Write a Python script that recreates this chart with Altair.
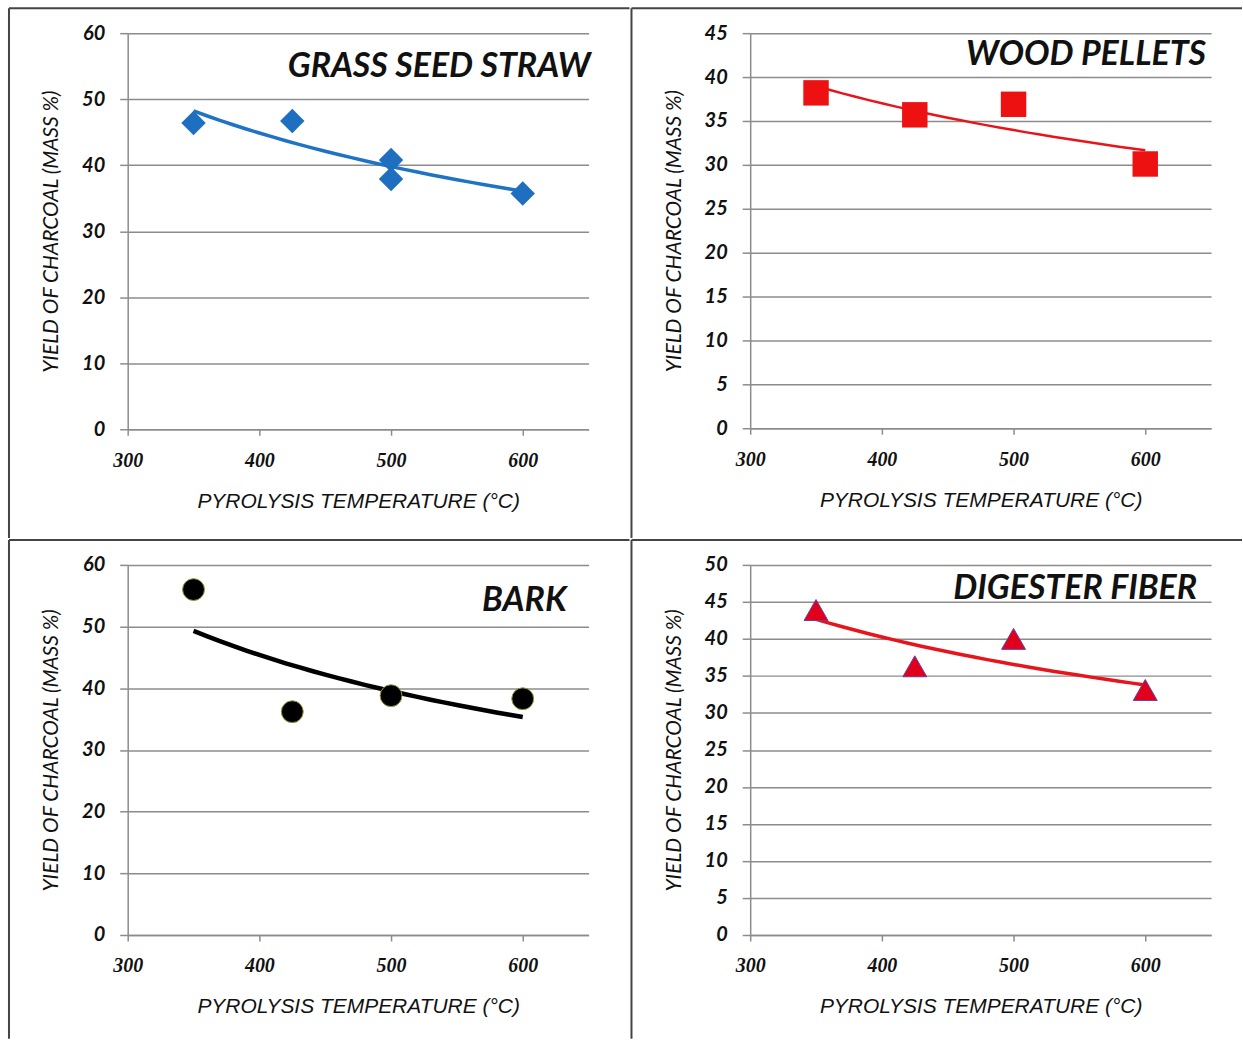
import altair as alt
import pandas as pd

# ---- data ----
x_ticks = [300, 400, 500, 600]

temps_grass = [350, 425, 500, 500, 600]
yield_grass = [46.4, 46.7, 40.8, 37.9, 35.7]

temps_wood = [350, 425, 500, 600]
yield_wood = [38.2, 35.7, 36.9, 30.1]

temps_bark = [350, 425, 500, 600]
yield_bark = [56.0, 36.2, 38.8, 38.3]

temps_fiber = [350, 425, 500, 600]
yield_fiber = [43.7, 36.1, 39.8, 32.9]

titles = ["GRASS SEED STRAW", "WOOD PELLETS", "BARK", "DIGESTER FIBER"]
y_max = [60, 45, 60, 50]
y_step = [10, 5, 10, 5]

X_TITLE = "PYROLYSIS TEMPERATURE (°C)"
Y_TITLE = "YIELD OF CHARCOAL (MASS %)"

GRID = "#8c8c8c"
BORDER = "#444444"


def panel(i, temps, ys, w, h, point_style, line_color, line_w, title_dx, title_y, box):
    df = pd.DataFrame({"T": temps, "Y": ys})
    yvals = list(range(0, y_max[i] + 1, y_step[i]))
    xenc = alt.X(
        "T:Q",
        scale=alt.Scale(domain=[300, 650], nice=False, zero=False),
        axis=alt.Axis(
            values=x_ticks, tickCount=len(x_ticks), grid=False, title=X_TITLE,
            titleFont="Liberation Sans", titleFontStyle="italic", titleFontWeight="normal",
            titleFontSize=21, titleColor="#111", titlePadding=21,
            labelFont="Liberation Serif", labelFontStyle="italic", labelFontWeight="bold",
            labelFontSize=20, labelColor="#111", labelPadding=15,
            labelFlush=False, labelOverlap=False,
            tickSize=6, tickColor=GRID, tickWidth=1.5,
            domainColor=GRID, domainWidth=1.5,
            minExtent=40, maxExtent=40,
        ),
    )
    yenc = alt.Y(
        "Y:Q",
        scale=alt.Scale(domain=[0, y_max[i]], nice=False),
        axis=alt.Axis(
            values=yvals, tickCount=len(yvals), title=Y_TITLE,
            titleFont="Lato", titleFontStyle="italic", titleFontWeight="normal",
            titleFontSize=21, titleColor="#111", titlePadding=20,
            labelFont="Lato", labelFontStyle="italic", labelFontWeight="bold",
            labelFontSize=20, labelColor="#111", labelPadding=15,
            labelOverlap=False, labelFlush=False,
            tickSize=8, tickColor=GRID, tickWidth=1.5,
            domainColor=GRID, domainWidth=1.5,
            gridColor=GRID, gridWidth=1.5,
            minExtent=46, maxExtent=46,
        ),
    )
    base = alt.Chart(df)
    trend = base.transform_regression("T", "Y", method="pow").mark_line(
        color=line_color, strokeWidth=line_w
    ).encode(x=xenc, y=yenc)
    pts = base.mark_point(filled=True, opacity=1, **point_style).encode(x="T:Q", y="Y:Q")
    ttl = alt.Chart(pd.DataFrame({"t": [titles[i]]})).mark_text(
        align="right", baseline="alphabetic", font="Lato", fontStyle="italic",
        fontWeight="bold", fontSize=34, color="#111"
    ).encode(x=alt.value(w + title_dx), y=alt.value(title_y), text="t:N")
    L, R, T, B = box
    one = pd.DataFrame({"a": [0]})
    top_rule = alt.Chart(one).mark_rule(color=BORDER, strokeWidth=2).encode(
        x=alt.value(L), x2=alt.value(R), y=alt.value(T)
    )
    left_rule = alt.Chart(one).mark_rule(color=BORDER, strokeWidth=2).encode(
        x=alt.value(L), y=alt.value(T), y2=alt.value(B)
    )
    return alt.layer(trend, pts, ttl, top_rule, left_rule).properties(width=w, height=h)


p1 = panel(0, temps_grass, yield_grass, 462, 397,
           dict(shape="diamond", size=600, fill="#1f6fc1", color="#1f6fc1", strokeWidth=0),
           "#1f73c4", 3.5, 2, 44, (-119, 503, -25, 506))
p2 = panel(1, temps_wood, yield_wood, 462, 396,
           dict(shape="square", size=650, fill="#ee1111", color="#ee1111", strokeWidth=0),
           "#e8141b", 2.5, -5, 32, (-119, 493, -25, 506))
p3 = panel(2, temps_bark, yield_bark, 462, 371,
           dict(shape="circle", size=480, fill="#000000", color="#000000",
                stroke="#9b9b3a", strokeWidth=1),
           "#000000", 4.5, -22, 46, (-119, 503, -25, 475))
p4 = panel(3, temps_fiber, yield_fiber, 462, 371,
           dict(shape="M0,-1L1,0.75L-1,0.75Z", size=576, fill="#e0001b", color="#e0001b",
                stroke="#6b3fa0", strokeWidth=1),
           "#e8141b", 3.5, -14, 34, (-119, 493, -25, 475))

chart = alt.vconcat(
    alt.hconcat(p1, p2, spacing=0),
    alt.hconcat(p3, p4, spacing=0),
    spacing=0,
).properties(
    padding={"left": 8, "top": 6, "right": 0, "bottom": 0},
    background="white",
).configure_view(stroke=None)

chart.save("out.html", embed_options={"renderer": "svg", "actions": False})
